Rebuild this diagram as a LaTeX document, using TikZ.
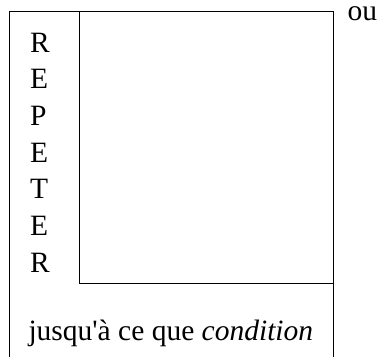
\documentclass[tikz,border=0pt]{standalone}
\usepackage{fontspec}
\setmainfont{Liberation Serif}[Ligatures=TeXOff]
\begin{document}
\begin{tikzpicture}[x=1pt, y=-1pt, line width=1pt,
    big/.style={font=\fontsize{29.5}{36.7}\selectfont, inner sep=0pt, anchor=base west}]
        \useasboundingbox (0,0) rectangle (379,356);

        % The outer frame (open at the bottom)
        \draw (9,360) -- (9,11) -- (333,11) -- (333,360);

        % The body of the loop
        \draw (79,11) -- (79,283) -- (333,283);

        % The keyword, one letter per line
        \foreach \l [count=\i] in {R,E,P,E,T,E,R}
            \node[big] (kw\i) at (29.5, {52+36.7*(\i-1)}) {\l};

        % The condition
        \node[big] (cond) at (28,340) {jusqu'à ce que \textit{condition}};

        % The alternative
        \node[big, text height=14pt, text depth=0pt] (alt) at (347,20) {ou};
    \end{tikzpicture}
\end{document}
